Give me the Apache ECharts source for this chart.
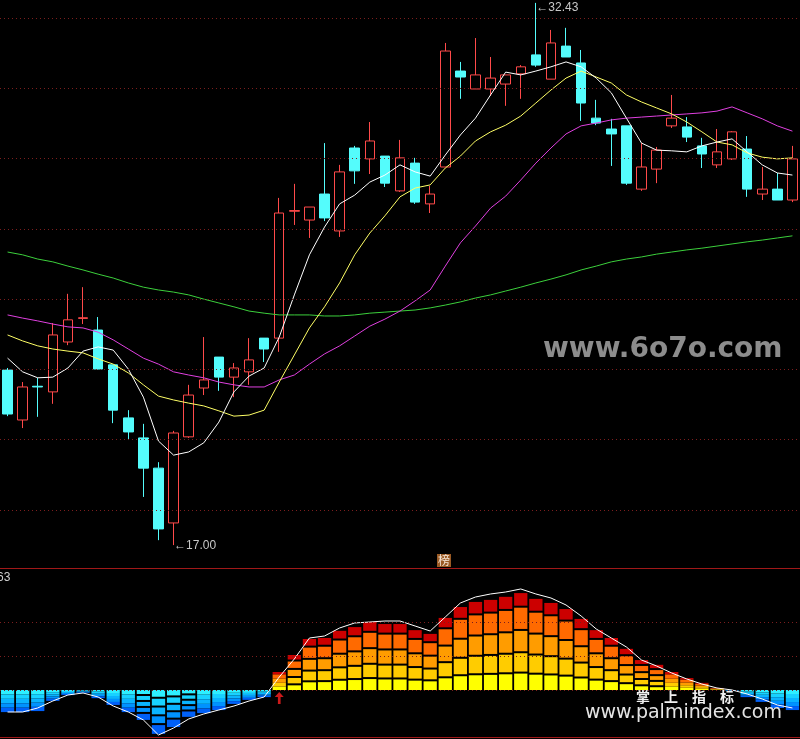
<!DOCTYPE html>
<html><head><meta charset="utf-8">
<script src="https://cdn.jsdelivr.net/npm/echarts@6/dist/echarts.min.js"></script>
<style>html,body{margin:0;padding:0;background:#000;overflow:hidden}#c{width:800px;height:739px}</style>
</head><body><div id="c"></div>
<script>
const categories = ['1','2','3','4','5','6','7','8','9','10','11','12','13','14','15','16','17','18','19','20','21','22','23','24','25','26','27','28','29','30','31','32','33','34','35','36','37','38','39','40','41','42','43','44','45','46','47','48','49','50','51','52','53'];
const openP  = [21.98,20.56,21.52,21.36,22.78,23.45,23.12,22.13,20.62,20.05,19.19,17.63,20.08,21.47,22.35,21.78,21.93,22.89,22.89,26.50,26.25,26.99,25.94,28.30,27.99,28.07,27.08,27.87,26.71,27.76,30.49,29.98,29.98,30.12,30.41,30.95,30.26,31.20,30.72,29.15,28.84,28.93,27.13,27.70,28.93,28.90,28.36,27.82,27.99,28.27,26.99,27.13,26.82];
const closeP = [20.73,21.50,21.50,22.98,23.41,23.47,22.01,20.84,20.22,19.19,17.46,20.19,21.27,21.70,21.78,22.04,22.27,22.58,26.45,26.52,26.62,26.31,27.62,27.65,28.50,27.30,28.02,26.76,26.99,31.06,30.32,30.38,30.29,30.38,30.61,30.66,31.29,30.89,29.58,29.01,28.70,27.30,27.76,28.24,29.15,28.61,28.13,28.19,28.76,27.13,27.13,26.82,27.99];
const lowP   = [20.67,20.33,20.65,21.02,22.69,23.29,22.00,20.47,19.99,18.37,17.14,17.00,20.05,21.27,21.39,21.21,21.56,22.21,22.50,26.11,25.74,26.22,25.77,27.28,27.56,27.19,27.05,26.71,26.45,27.76,29.70,29.98,29.78,29.50,29.70,30.61,30.26,30.89,29.07,28.95,27.79,27.25,27.08,27.30,28.87,28.47,27.73,27.73,27.96,26.91,26.82,26.82,26.76];
const highP  = [22.04,21.64,21.76,23.32,24.15,24.34,23.49,22.13,20.84,20.45,19.36,20.25,21.56,22.92,22.35,22.18,22.89,22.89,26.88,27.28,26.62,28.44,27.82,28.36,29.04,28.07,28.53,28.02,27.22,31.29,30.75,31.43,30.89,30.38,30.66,32.43,31.66,31.72,31.09,29.67,29.13,28.93,28.44,28.33,29.81,29.18,28.59,28.84,28.78,28.64,27.76,27.59,28.36];
const maWhite   = [22.32,21.93,21.76,21.78,22.04,22.52,22.64,22.55,22.01,21.21,19.96,19.56,19.65,19.91,20.50,21.36,21.81,22.04,22.92,24.12,25.26,26.05,26.71,26.96,27.33,27.53,27.82,27.62,27.50,28.10,28.67,29.15,29.81,30.46,30.38,30.49,30.61,30.75,30.61,30.29,29.87,29.15,28.44,28.24,28.22,28.19,28.36,28.47,28.56,28.19,27.82,27.59,27.53];
const maYellow  = [22.98,22.81,22.67,22.58,22.52,22.47,22.30,22.15,21.90,21.56,21.24,21.13,21.04,20.96,20.82,20.67,20.70,20.84,21.64,22.41,23.18,23.78,24.46,25.26,25.88,26.37,26.91,27.16,27.25,27.73,28.07,28.50,28.76,28.95,29.21,29.58,29.95,30.29,30.49,30.32,30.15,29.81,29.61,29.44,29.27,29.04,28.76,28.47,28.39,28.16,28.04,27.99,28.02];
const maMagenta = [23.55,23.46,23.38,23.29,23.21,23.18,23.06,22.84,22.58,22.32,22.15,21.93,21.84,21.76,21.64,21.56,21.50,21.50,21.70,21.84,22.15,22.44,22.67,22.95,23.23,23.43,23.66,23.95,24.26,24.94,25.60,26.08,26.59,26.93,27.39,27.87,28.30,28.70,28.93,29.01,29.10,29.15,29.18,29.21,29.24,29.27,29.30,29.35,29.47,29.30,29.13,28.93,28.78];
const maGreen   = [25.34,25.26,25.14,25.06,24.94,24.83,24.71,24.60,24.46,24.34,24.26,24.20,24.12,24.00,23.89,23.78,23.66,23.60,23.55,23.55,23.55,23.52,23.52,23.55,23.60,23.63,23.66,23.69,23.75,23.83,23.92,24.03,24.12,24.23,24.34,24.46,24.57,24.69,24.83,24.94,25.06,25.14,25.20,25.28,25.34,25.40,25.45,25.51,25.57,25.63,25.68,25.74,25.80];
const indBars = [-6.5,-6.5,-6.2,-3.2,-1.5,-0.9,-2.4,-4.4,-6.5,-8.8,-12.9,-10.9,-7.9,-6.8,-5.9,-4.1,-2.9,-2.1,5.3,10.3,15.0,15.3,17.4,18.5,20.0,19.4,19.4,17.6,16.5,21.2,24.4,25.9,26.5,27.4,28.5,26.8,25.6,23.8,20.9,17.6,15.3,12.1,8.8,7.4,5.3,3.5,2.1,0.6,-0.3,-2.1,-3.5,-5.3,-5.9];
const indLine = [-6.47,-6.47,-5.29,-3.24,-1.47,-0.88,-2.06,-4.71,-6.47,-8.82,-13.24,-11.18,-8.53,-7.06,-5.88,-4.71,-3.24,-2.06,3.82,9.12,15.29,15.88,18.24,19.71,20.0,20.29,20.29,18.82,17.35,21.47,25.59,27.35,28.24,28.82,29.71,28.24,27.06,25.0,21.76,17.94,15.29,12.65,8.82,7.06,5.0,3.24,1.76,0.59,0,-1.18,-2.65,-4.41,-5.29];
const priceGridLevels = [18,20,22,24,26,28,30,32];
const indGridLevels = [0,10,20];
const signalIndex = 18;
const signalLevel = -2.35;
const highIndex = 35, lowIndex = 11;

const posColors = ['#FFFF00','#FFCC00','#FF9C00','#FF6A00','#CC0000'];
const negColors = ['#2EEFFF','#18D2FF','#0AB4FF','#0092FF','#0060F8'];

const candleData = openP.map((o,i)=>[o, closeP[i], lowP[i], highP[i]]);
const barData = indBars.map((v,i)=>[i, v]);

function renderBars(params, api) {
  const idx = api.value(0), v = api.value(1);
  const p0 = api.coord([idx, 0]);
  const p1 = api.coord([idx, v]);
  const bw = api.size([1, 0])[0] * 0.88;
  const x = p0[0] - bw / 2;
  const total = Math.abs(p1[1] - p0[1]);
  const up = v >= 0;
  const dir = up ? -1 : 1;
  const colors = up ? posColors : negColors;
  const fr = up ? [0,0.19,0.40,0.63,0.87,1] : [0,0.2,0.4,0.6,0.8,1];
  const gap = total > 24 ? 2 : 0;
  const children = [];
  for (let k = 0; k < 5; k++) {
    const a = fr[k] * total;
    const b = fr[k+1] * total - (k < 4 ? gap : 0);
    if (b <= a) continue;
    const y0 = p0[1] + dir * a, y1 = p0[1] + dir * b;
    children.push({type:'rect', shape:{x:x, y:Math.min(y0,y1), width:bw, height:Math.abs(y1-y0)}, style:{fill:colors[k]}});
  }
  return {type:'group', children: children};
}

const dotStyle = {color:'#7c1e1e', type:[1,3], width:1};
const chart = echarts.init(document.getElementById('c'), null, {renderer:'canvas'});
chart.setOption({
  backgroundColor:'#000000',
  animation:false,
  grid:[
    {left:-1, top:0, width:803, height:568},
    {left:-1, top:568, width:803, height:170}
  ],
  xAxis:[
    {type:'category', data:categories, gridIndex:0, boundaryGap:true, show:false},
    {type:'category', data:categories, gridIndex:1, boundaryGap:true, show:false}
  ],
  yAxis:[
    {type:'value', gridIndex:0, min:16.348, max:32.512, show:false, splitLine:{show:false}},
    {type:'value', gridIndex:1, min:-14.12, max:35.88, show:false, splitLine:{show:false}}
  ],
  series:[
    {type:'line', xAxisIndex:0, yAxisIndex:0, data:categories.map(()=>null), z:0, silent:true, symbol:'none',
     markLine:{silent:true, symbol:'none', label:{show:false}, lineStyle:dotStyle, data:priceGridLevels.map(v=>({yAxis:v}))}},
    {type:'line', xAxisIndex:1, yAxisIndex:1, data:categories.map(()=>null), z:0, silent:true, symbol:'none',
     markLine:{silent:true, symbol:'none', label:{show:false}, lineStyle:dotStyle, data:indGridLevels.map(v=>({yAxis:v}))}},
    {type:'candlestick', xAxisIndex:0, yAxisIndex:0, data:candleData, barWidth:10, z:2,
     itemStyle:{color:'rgba(0,0,0,0)', color0:'#54FCFC', borderColor:'#FF4A4A', borderColor0:'#54FCFC', borderWidth:1},
     markPoint:{silent:true, symbol:'circle', symbolSize:1, itemStyle:{color:'rgba(0,0,0,0)'},
       label:{show:true, position:'right', distance:0, color:'#C8C8C8', fontSize:12, fontFamily:'Liberation Sans, Arial, sans-serif',
              formatter:(p)=>'\u2190' + Number(p.value).toFixed(2)},
       data:[
         {coord:[categories[highIndex], highP[highIndex]], value:highP[highIndex], label:{offset:[0,5]}},
         {coord:[categories[lowIndex], lowP[lowIndex]], value:lowP[lowIndex], label:{offset:[0,1]}}
       ]}},
    {type:'line', xAxisIndex:0, yAxisIndex:0, data:maGreen, symbol:'none', z:3, lineStyle:{color:'#3CD03C', width:1}},
    {type:'line', xAxisIndex:0, yAxisIndex:0, data:maMagenta, symbol:'none', z:3, lineStyle:{color:'#E040E0', width:1}},
    {type:'line', xAxisIndex:0, yAxisIndex:0, data:maYellow, symbol:'none', z:3, lineStyle:{color:'#FFFF66', width:1}},
    {type:'line', xAxisIndex:0, yAxisIndex:0, data:maWhite, symbol:'none', z:3, lineStyle:{color:'#FFFFFF', width:1}},
    {type:'custom', xAxisIndex:1, yAxisIndex:1, data:barData, renderItem:renderBars, z:2, encode:{x:0, y:1}},
    {type:'line', xAxisIndex:1, yAxisIndex:1, data:indLine, symbol:'none', z:3, lineStyle:{color:'#FFFFFF', width:1}},
    {type:'scatter', xAxisIndex:1, yAxisIndex:1, data:[[signalIndex, signalLevel]], z:4,
     symbol:'path://M5,0 L10,5 L6.5,5 L6.5,12 L3.5,12 L3.5,5 L0,5 Z', symbolSize:[9,12], itemStyle:{color:'#FF2020'}}
  ],
  graphic:[
    {type:'line', shape:{x1:0, y1:568.5, x2:800, y2:568.5}, style:{stroke:'#A01818', lineWidth:1}, z:10},
    {type:'line', shape:{x1:0, y1:737.5, x2:800, y2:737.5}, style:{stroke:'#A01818', lineWidth:1}, z:10},
    {type:'text', x:543, y:350, style:{text:'www.6o7o.com', fill:'#8C8C8C', font:'bold 28px "DejaVu Sans"', textVerticalAlign:'middle'}, z:1},
    {type:'text', x:-3, y:578, style:{text:'63', fill:'#D0D0D0', font:'12px "Liberation Sans"', textVerticalAlign:'middle'}, z:10},
    {type:'rect', shape:{x:437, y:554, width:14, height:13}, style:{fill:'#9A5A24'}, z:10},
    {type:'text', x:444, y:560.5, style:{text:'榜', fill:'#F4E6D8', font:'12px "Noto Sans CJK SC"', textAlign:'center', textVerticalAlign:'middle'}, z:11},
    {type:'text', x:636, y:697, style:{text:'掌　上　指　标', fill:'#F0F0F0', font:'bold 14px "Noto Sans CJK SC"', textVerticalAlign:'middle'}, z:10},
    {type:'text', x:585, y:713, style:{text:'www.palmindex.com', fill:'#E4E4E4', font:'19px "DejaVu Sans"', textVerticalAlign:'middle'}, z:10}
  ]
});
</script></body></html>
